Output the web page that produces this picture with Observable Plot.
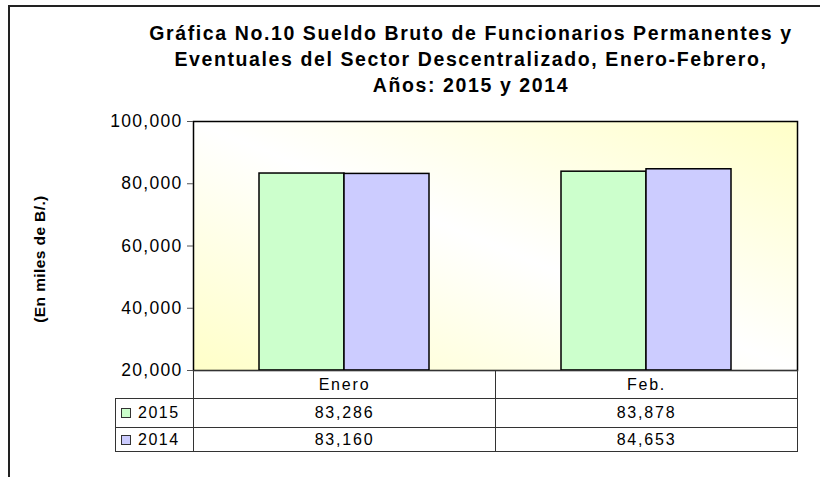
<!DOCTYPE html>
<html>
<head>
<meta charset="utf-8">
<script src="https://cdn.jsdelivr.net/npm/d3@7"></script>
<script src="https://cdn.jsdelivr.net/npm/@observablehq/plot@0.6"></script>
<style>
  html, body { margin: 0; padding: 0; background: #fff; }
  body { width: 820px; height: 477px; position: relative; overflow: hidden; font-family: Arial, "Liberation Sans", sans-serif; }
  #frame { position: absolute; left: 8px; top: 5px; width: 900px; height: 600px; border-left: 2px solid #222; border-top: 2px solid #222; }
  #title { position: absolute; left: 71px; width: 800px; top: 20px; text-align: center; font-weight: bold; font-size: 19.5px; line-height: 26px; letter-spacing: 1.6px; color: #000; }
  #ylabel { position: absolute; left: 40px; top: 259px; transform: translate(-50%, -50%) rotate(-90deg); white-space: nowrap; font-weight: bold; font-size: 15.5px; letter-spacing: 0.4px; color: #000; }
  #chart { position: absolute; left: 0; top: 0; }
  #table { position: absolute; left: 115px; top: 370px; border-collapse: collapse; table-layout: fixed; font-size: 16px; letter-spacing: 1.8px; }
  #table td { border: 1px solid #333; text-align: center; padding: 0; color: #000; }
  #table td.blank { border-top: none; border-left: none; }
  #table td.leg { text-align: left; padding-left: 5px; letter-spacing: 1.5px; }
  .sw { display: inline-block; width: 8px; height: 8px; border: 1px solid #333; margin-right: 7px; vertical-align: 0px; }
</style>
</head>
<body>
<div id="frame"></div>
<div id="title">Gráfica No.10 Sueldo Bruto de Funcionarios Permanentes y<br>Eventuales del Sector Descentralizado, Enero-Febrero,<br>Años: 2015 y 2014</div>
<div id="chart"></div>
<div id="ylabel">(En miles de B/.)</div>
<table id="table"></table>
<script>
const categories = ["Enero", "Feb."];
const series = ["2015", "2014"];
const values2015 = [83286, 83878];
const values2014 = [83160, 84653];
const seriesColors = ["#ccffcc", "#ccccff"];
const yTicks = [20000, 40000, 60000, 80000, 100000];
const yDomain = [20000, 100000];

const valuesBySeries = {"2015": values2015, "2014": values2014};
const data = [];
series.forEach(s => categories.forEach((c, i) => data.push({cat: c, year: s, value: valuesBySeries[s][i]})));

const plot = Plot.plot({
  width: 820,
  height: 380,
  marginTop: 121,
  marginBottom: 10,
  marginLeft: 193,
  marginRight: 23,
  style: {fontFamily: "Arial, 'Liberation Sans', sans-serif", background: "transparent", overflow: "visible"},
  fx: {domain: categories, paddingInner: 0, paddingOuter: 0, axis: null},
  x: {domain: series, paddingInner: 0, paddingOuter: 0.766, axis: null},
  y: {domain: yDomain, axis: null},
  color: {domain: series, range: seriesColors},
  marks: [
    Plot.frame({facet: "super", fill: "url(#bgGrad)", stroke: "none"}),
    Plot.barY(data, {fx: "cat", x: "year", y1: () => yDomain[0], y2: "value", fill: "year", stroke: "black", strokeWidth: 1.5}),
    Plot.frame({facet: "super", stroke: "black", strokeWidth: 1.5, fill: "none"}),
    Plot.axisY({ticks: yTicks, tickFormat: d3.format(","), tickSize: 6, tickPadding: 5, fontSize: 17.5, stroke: "#555", label: null, facetAnchor: "left"})
  ]
});
d3.select(plot).insert("defs", ":first-child").html(
  `<linearGradient id="bgGrad" x1="0" y1="1" x2="1" y2="0">
     <stop offset="0" stop-color="#ffffc8"/>
     <stop offset="0.5" stop-color="#ffffff"/>
     <stop offset="1" stop-color="#ffffc8"/>
   </linearGradient>`);
d3.select(plot).selectAll("[aria-label='y-axis tick label'] text").style("letter-spacing", "1.3px").attr("fill", "#000");
document.getElementById("chart").appendChild(plot);

// data table below the chart
const fmt = d3.format(",");
const table = d3.select("#table");
const cg = table.append("colgroup");
cg.append("col").style("width", "78px");
categories.forEach(() => cg.append("col").style("width", "302px"));
const head = table.append("tr").style("height", "28px");
head.append("td").attr("class", "blank");
categories.forEach(c => head.append("td").text(c));
series.forEach((s, si) => {
  const tr = table.append("tr").style("height", si === 0 ? "29px" : "24px");
  const leg = tr.append("td").attr("class", "leg");
  leg.append("span").attr("class", "sw").style("background", seriesColors[si]);
  leg.append("span").text(s);
  valuesBySeries[s].forEach(v => tr.append("td").text(fmt(v)));
});
</script>
</body>
</html>
